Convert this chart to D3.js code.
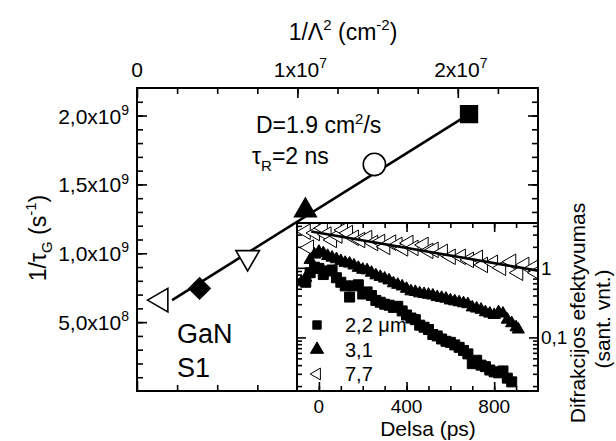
<!DOCTYPE html>
<html><head><meta charset="utf-8">
<script src="https://cdn.jsdelivr.net/npm/d3@7"></script>
<style>
body{margin:0;background:#fff}
text{font-family:Arial,"Liberation Sans",Helvetica,sans-serif;fill:#000}
</style>
</head><body>
<svg id="c" width="616" height="441"></svg>
<script>
// ---------- main plot data: 1/tau_G vs 1/Lambda^2 ----------
const mainX = [0.15e7, 0.39e7, 0.69e7, 1.05e7, 1.48e7, 2.07e7];
const mainY = [0.66e9, 0.745e9, 0.97e9, 1.31e9, 1.645e9, 2.01e9];
const mainShapes = ["triLeftOpen", "diamondFilled", "triDownOpen", "triUpFilled", "circleOpen", "squareFilled"];
const fitX = [0.219e7, 2.07e7];
const fitY = [0.66e9, 2.01e9];
const leftTicks = [5e8, 1e9, 1.5e9, 2e9];
const leftTickLabels = [["5,0x10","8"], ["1,0x10","9"], ["1,5x10","9"], ["2,0x10","9"]];
const topTicks = [0, 1e7, 2e7];
const topTickLabels = [["0",""], ["1x10","7"], ["2x10","7"]];

// ---------- inset data: diffraction efficiency vs delay ----------
const t22 = [-60,-40,-20,0,20,40,60,80,100,120,140,160,180,200,220,240,260,280,300,320,340,360,380,400,420,440,460,480,500,520,540,560,580,600,620,640,660,680,700,720,740,760,780,800,820,840,860,880];
const v22 = [0.62,0.85,1.02,0.98,0.80,0.90,0.93,0.72,0.62,0.55,0.38,0.55,0.57,0.42,0.45,0.40,0.34,0.32,0.30,0.29,0.27,0.28,0.24,0.21,0.19,0.18,0.15,0.14,0.13,0.11,0.105,0.095,0.088,0.085,0.078,0.072,0.065,0.058,0.042,0.047,0.040,0.038,0.034,0.032,0.031,0.033,0.026,0.023];
const t31 = [-80,-60,-40,-20,0,20,40,60,80,100,120,140,160,180,200,220,240,260,280,300,320,340,360,380,400,420,440,460,480,500,520,540,560,580,600,620,640,660,680,700,720,740,760,780,800,820,840,860,880,900,910];
const v31 = [0.62,0.72,1.30,1.55,1.70,1.62,1.48,1.40,1.33,1.25,1.18,1.15,1.08,1.00,0.94,0.92,0.85,0.78,0.74,0.70,0.66,0.60,0.57,0.54,0.50,0.46,0.45,0.43,0.42,0.41,0.40,0.38,0.37,0.36,0.34,0.33,0.32,0.31,0.30,0.27,0.26,0.25,0.23,0.22,0.21,0.23,0.22,0.18,0.16,0.14,0.13];
const t77 = [-60,-45,-18,18,35,60,85,110,133,160,189,221,248,280,303,330,359,385,409,432,478,500,524,566,602,648,685,726,749,795,832,878,910,938,979,993];
const v77 = [3.3,1.95,3.16,3.73,3.0,2.51,2.9,3.49,3.16,2.7,2.51,2.68,2.27,2.35,2.0,2.3,2.13,1.9,2.27,1.93,2.13,1.75,1.81,1.69,1.44,1.44,1.30,1.39,1.10,1.18,1.0,1.22,0.85,1.10,1.0,0.85];
const fit77T = [-35, 1000];
const fit77V = [3.33, 0.91];
const insetXTicks = [0, 400, 800];
const insetYTicks = [0.1, 1];
const insetYTickLabels = ["0,1", "1"];
const legendLabels = ["2,2 \u03bcm", "3,1", "7,7"];

// ---------- layout ----------
const svg = d3.select("#c");
const L = 137, R = 538, T = 88, B = 391;
const IL = 297, IT = 223;

const mx = d3.scaleLinear().domain([0, 2.5e7]).range([L, R]);
const my = d3.scaleLinear().domain([0, 2.2e9]).range([B, T]);
const ix = d3.scaleLinear().domain([-100, 1000]).range([IL, R]);
const iy = d3.scaleLog().domain([0.017, 4.4]).range([B, IT]);

function range(a, b, s) { const r = []; for (let v = a; v <= b + s * 1e-6; v += s) r.push(+v.toPrecision(10)); return r; }

function axisG(axis, tx, ty) {
  const g = svg.append("g").attr("transform", `translate(${tx},${ty})`).call(axis);
  g.select(".domain").remove();
  g.selectAll(".tick line").attr("stroke", "#000").attr("stroke-width", 1.6);
  g.selectAll(".tick text").remove();
  return g;
}

// main axes ticks (inward)
const leftMinor = range(1e8, 2.1e9, 1e8);
const topMinor = range(0.25e7, 2.25e7, 0.25e7);
axisG(d3.axisLeft(my).tickValues(leftMinor).tickSize(-6).tickFormat(""), L, 0);
axisG(d3.axisLeft(my).tickValues(leftTicks).tickSize(-10).tickFormat(""), L, 0);
axisG(d3.axisRight(my).tickValues(leftMinor).tickSize(-6).tickFormat(""), R, 0);
axisG(d3.axisRight(my).tickValues(leftTicks).tickSize(-10).tickFormat(""), R, 0);
axisG(d3.axisTop(mx).tickValues(topMinor).tickSize(-6).tickFormat(""), 0, T);
axisG(d3.axisTop(mx).tickValues(topTicks).tickSize(-10).tickFormat(""), 0, T);
axisG(d3.axisBottom(mx).tickValues(topMinor).tickSize(-6).tickFormat(""), 0, B);
axisG(d3.axisBottom(mx).tickValues(topTicks).tickSize(-10).tickFormat(""), 0, B);

// main frame
svg.append("rect").attr("x", L).attr("y", T).attr("width", R - L).attr("height", B - T)
  .attr("fill", "none").attr("stroke", "#000").attr("stroke-width", 2);

// tick labels with superscripts
function supText(x, y, base, sup, size, supSize, anchor) {
  const t = svg.append("text").attr("x", x).attr("y", y).attr("font-size", size).attr("text-anchor", anchor);
  t.append("tspan").text(base);
  if (sup) t.append("tspan").attr("dy", -size * 0.42).attr("font-size", supSize).text(sup);
  return t;
}
leftTicks.forEach((v, i) => supText(129, my(v) + 8, leftTickLabels[i][0], leftTickLabels[i][1], 21, 14, "end"));
topTicks.forEach((v, i) => supText(mx(v) + (i ? 3 : 0), 77, topTickLabels[i][0], topTickLabels[i][1], 21, 14, "middle"));

// main fit line
svg.append("path")
  .attr("d", d3.line().x(d => mx(d[0])).y(d => my(d[1]))(fitX.map((x, i) => [x, fitY[i]])))
  .attr("stroke", "#000").attr("stroke-width", 2.6).attr("fill", "none");

// symbols
function drawSym(g, shape, x, y, s) {
  let type, rot = 0, filled = false, size;
  switch (shape) {
    case "triLeftOpen": type = d3.symbolTriangle; rot = -90; size = s.tri; break;
    case "triDownOpen": type = d3.symbolTriangle; rot = 180; size = s.tri; break;
    case "triUpFilled": type = d3.symbolTriangle; filled = true; size = s.triF; break;
    case "diamondFilled": type = d3.symbolSquare; rot = 45; filled = true; size = s.dia; break;
    case "circleOpen": type = d3.symbolCircle; size = s.circ; break;
    case "squareFilled": type = d3.symbolSquare; filled = true; size = s.sq; break;
  }
  g.append("path").attr("d", d3.symbol().type(type).size(size)())
    .attr("transform", `translate(${x},${y}) rotate(${rot})`)
    .attr("fill", filled ? "#000" : "#fff").attr("stroke", "#000").attr("stroke-width", s.sw);
}
const mainG = svg.append("g");
const mainSizes = { tri: 240, triF: 200, dia: 220, circ: 390, sq: 280, sw: 1.6 };
mainX.forEach((x, i) => drawSym(mainG, mainShapes[i], mx(x), my(mainY[i]), mainSizes));

// main labels
svg.append("text").attr("x", 177).attr("y", 343).attr("font-size", 27).text("GaN");
svg.append("text").attr("x", 177).attr("y", 377).attr("font-size", 27).text("S1");
const dT = svg.append("text").attr("x", 256).attr("y", 133).attr("font-size", 23);
dT.append("tspan").text("D=1.9 cm");
dT.append("tspan").attr("dy", -9).attr("font-size", 15).text("2");
dT.append("tspan").attr("dy", 9).text("/s");
const tT = svg.append("text").attr("x", 252).attr("y", 164).attr("font-size", 23);
tT.append("tspan").text("\u03c4");
tT.append("tspan").attr("dy", 7).attr("font-size", 15).text("R");
tT.append("tspan").attr("dy", -7).text("=2 ns");

// top title
const tt = svg.append("text").attr("x", 343).attr("y", 40).attr("font-size", 23).attr("text-anchor", "middle");
tt.append("tspan").text("1/\u039b");
tt.append("tspan").attr("dy", -10).attr("font-size", 15).text("2");
tt.append("tspan").attr("dy", 10).text(" (cm");
tt.append("tspan").attr("dy", -10).attr("font-size", 15).text("-2");
tt.append("tspan").attr("dy", 10).text(")");

// left title
const lt = svg.append("text").attr("transform", "translate(46,238) rotate(-90)").attr("font-size", 23).attr("text-anchor", "middle");
lt.append("tspan").text("1/\u03c4");
lt.append("tspan").attr("dy", 6).attr("font-size", 15).text("G");
lt.append("tspan").attr("dy", -6).text(" (s");
lt.append("tspan").attr("dy", -10).attr("font-size", 15).text("-1");
lt.append("tspan").attr("dy", 10).text(")");

// ---------- inset ----------
svg.append("rect").attr("x", IL).attr("y", IT).attr("width", R - IL).attr("height", B - IT).attr("fill", "#fff");
const ixMinor = range(-100, 1000, 100).filter(v => v > -100 && v < 1000);
const iyMinor = [0.02,0.03,0.04,0.05,0.06,0.07,0.08,0.09,0.2,0.3,0.4,0.5,0.6,0.7,0.8,0.9,2,3,4];
axisG(d3.axisBottom(ix).tickValues(ixMinor).tickSize(-5).tickFormat(""), 0, B);
axisG(d3.axisBottom(ix).tickValues(insetXTicks).tickSize(-9).tickFormat(""), 0, B);
axisG(d3.axisTop(ix).tickValues(ixMinor).tickSize(-5).tickFormat(""), 0, IT);
axisG(d3.axisTop(ix).tickValues(insetXTicks).tickSize(-9).tickFormat(""), 0, IT);
axisG(d3.axisRight(iy).tickValues(iyMinor).tickSize(-5).tickFormat(""), R, 0);
axisG(d3.axisRight(iy).tickValues(insetYTicks).tickSize(-9).tickFormat(""), R, 0);
axisG(d3.axisLeft(iy).tickValues(iyMinor).tickSize(-5).tickFormat(""), IL, 0);
axisG(d3.axisLeft(iy).tickValues(insetYTicks).tickSize(-9).tickFormat(""), IL, 0);

svg.append("clipPath").attr("id", "ic").append("rect").attr("x", IL).attr("y", IT).attr("width", R - IL).attr("height", B - IT);
const ig = svg.append("g").attr("clip-path", "url(#ic)");
const inSizes = { tri: 105, triF: 65, dia: 60, circ: 60, sq: 100, sw: 1 };
t77.forEach((t, i) => drawSym(ig, "triLeftOpen", ix(t), iy(v77[i]), inSizes));
ig.append("path")
  .attr("d", d3.line().x(d => ix(d[0])).y(d => iy(d[1]))(fit77T.map((t, i) => [t, fit77V[i]])))
  .attr("stroke", "#000").attr("stroke-width", 2.6).attr("fill", "none");
t31.forEach((t, i) => drawSym(ig, "triUpFilled", ix(t), iy(v31[i]), inSizes));
t22.forEach((t, i) => drawSym(ig, "squareFilled", ix(t), iy(v22[i]), inSizes));

svg.append("rect").attr("x", IL).attr("y", IT).attr("width", R - IL).attr("height", B - IT)
  .attr("fill", "none").attr("stroke", "#000").attr("stroke-width", 2);

// inset labels
insetXTicks.forEach(v => svg.append("text").attr("x", ix(v)).attr("y", 413).attr("font-size", 19).attr("text-anchor", "middle").text(v));
insetYTicks.forEach((v, i) => svg.append("text").attr("x", 541).attr("y", iy(v) + 7).attr("font-size", 19).text(insetYTickLabels[i]));
svg.append("text").attr("x", 428).attr("y", 436).attr("font-size", 21).attr("text-anchor", "middle").text("Delsa (ps)");
svg.append("text").attr("transform", "translate(585,313) rotate(-90)").attr("font-size", 21).attr("text-anchor", "middle").text("Difrakcijos efektyvumas");
svg.append("text").attr("transform", "translate(610,319) rotate(-90)").attr("font-size", 21).attr("text-anchor", "middle").text("(sant. vnt.)");

// legend
const legShapes = ["squareFilled", "triUpFilled", "triLeftOpen"];
const legSizes = { tri: 60, triF: 75, dia: 60, circ: 60, sq: 70, sw: 1 };
legendLabels.forEach((lab, i) => {
  const y = 325 + i * 24.5;
  drawSym(svg, legShapes[i], 317, y, legSizes);
  svg.append("text").attr("x", 345).attr("y", y + 7).attr("font-size", 20).text(lab);
});
</script>
</body></html>
